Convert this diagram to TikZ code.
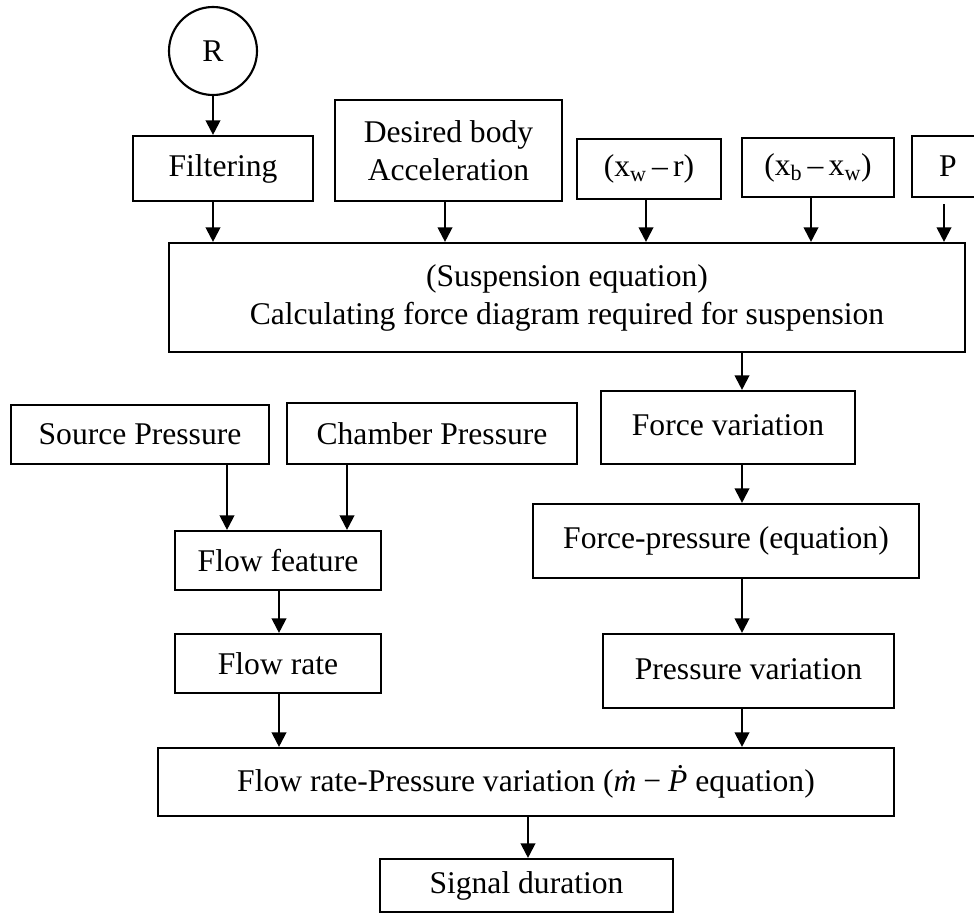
\documentclass[tikz,border=0pt]{standalone}
\usepackage{fontspec}
\setmainfont{Liberation Serif}
\usetikzlibrary{arrows.meta,calc}

\tikzset{
  box/.style={draw, line width=1.6pt, inner sep=0pt, align=center,
    font=\fontsize{23.7}{28.5}\selectfont},
  arr/.style={line width=1.6pt, -{Triangle[length=11pt,width=11pt]}},
}

\begin{document}
\begin{tikzpicture}[x=0.75pt, y=-0.75pt]
\useasboundingbox (0,0) rectangle (974,917);

% top inputs
\node[box, circle, minimum size=66pt] (R) at (213,51) {R};
\node[box, minimum width=135pt, minimum height=48.75pt] (filt) at (223,168.5) {Filtering};
\node[box, minimum width=170.25pt, minimum height=75.75pt] (des) at (448.5,150.5) {Desired body\\Acceleration};
\node[box, minimum width=108pt, minimum height=45pt] (xw) at (649,169) {(x\textsubscript{w}\,–\,r)};
\node[box, minimum width=114pt, minimum height=44.25pt] (xb) at (818,167.5) {(x\textsubscript{b}\,–\,x\textsubscript{w})};
\node[box, minimum width=54pt, minimum height=45.75pt] (P) at (948,166.5) {P};

% suspension equation
\node[box, minimum width=597pt, minimum height=81.75pt] (main) at (567,297.5)
  {\raisebox{4pt}{\begin{tabular}{@{}c@{}}(Suspension equation)\\Calculating force diagram required for suspension\end{tabular}}};

% left branch
\node[box, minimum width=193.5pt, minimum height=44.25pt] (src) at (140,434.5) {Source Pressure};
\node[box, minimum width=217.5pt, minimum height=45.75pt] (ch) at (432,433.5) {Chamber Pressure};
\node[box, minimum width=154.5pt, minimum height=44.25pt] (ff) at (278,560.5) {Flow feature};
\node[box, minimum width=154.5pt, minimum height=44.25pt] (fr) at (278,663.5) {Flow rate};

% right branch
\node[box, minimum width=190.5pt, minimum height=54.75pt] (fv) at (728,427.5) {\raisebox{4pt}{Force variation}};
\node[box, minimum width=289.5pt, minimum height=55.5pt] (fp) at (726,541) {Force-pressure (equation)};
\node[box, minimum width=218.25pt, minimum height=55.5pt] (pv) at (748.5,671) {\raisebox{3pt}{Pressure variation}};

% bottom
\node[box, minimum width=552pt, minimum height=51pt] (fpv) at (526,782)
  {Flow rate-Pressure variation (\textit{\.m}\hspace{0.22em}−\hspace{0.22em}\textit{\.P} equation)};
\node[box, minimum width=219.75pt, minimum height=39.75pt] (sig) at (526.5,885.5) {Signal duration};

% connector columns
\coordinate (cA) at (213,0);
\coordinate (cB) at (445,0);
\coordinate (cC) at (646,0);
\coordinate (cD) at (811,0);
\coordinate (cE) at (944,0);
\coordinate (cF) at (742,0);
\coordinate (cG) at (227,0);
\coordinate (cH) at (347,0);
\coordinate (cI) at (279,0);
\coordinate (cJ) at (528,0);

\draw[arr] (R) -- (R |- filt.north);
\draw[arr] (filt.south -| cA) -- (main.north -| cA);
\draw[arr] (des.south -| cB) -- (main.north -| cB);
\draw[arr] (xw.south -| cC) -- (main.north -| cC);
\draw[arr] (xb.south -| cD) -- (main.north -| cD);
\draw[arr, shorten <=4.5pt] (P.south -| cE) -- (main.north -| cE);

\draw[arr] (main.south -| cF) -- (fv.north -| cF);
\draw[arr] (fv.south -| cF) -- (fp.north -| cF);
\draw[arr] (fp.south -| cF) -- (pv.north -| cF);
\draw[arr] (pv.south -| cF) -- (fpv.north -| cF);

\draw[arr] (src.south -| cG) -- (ff.north -| cG);
\draw[arr] (ch.south -| cH) -- (ff.north -| cH);
\draw[arr] (ff.south -| cI) -- (fr.north -| cI);
\draw[arr] (fr.south -| cI) -- (fpv.north -| cI);

\draw[arr] (fpv.south -| cJ) -- (sig.north -| cJ);
\end{tikzpicture}
\end{document}
